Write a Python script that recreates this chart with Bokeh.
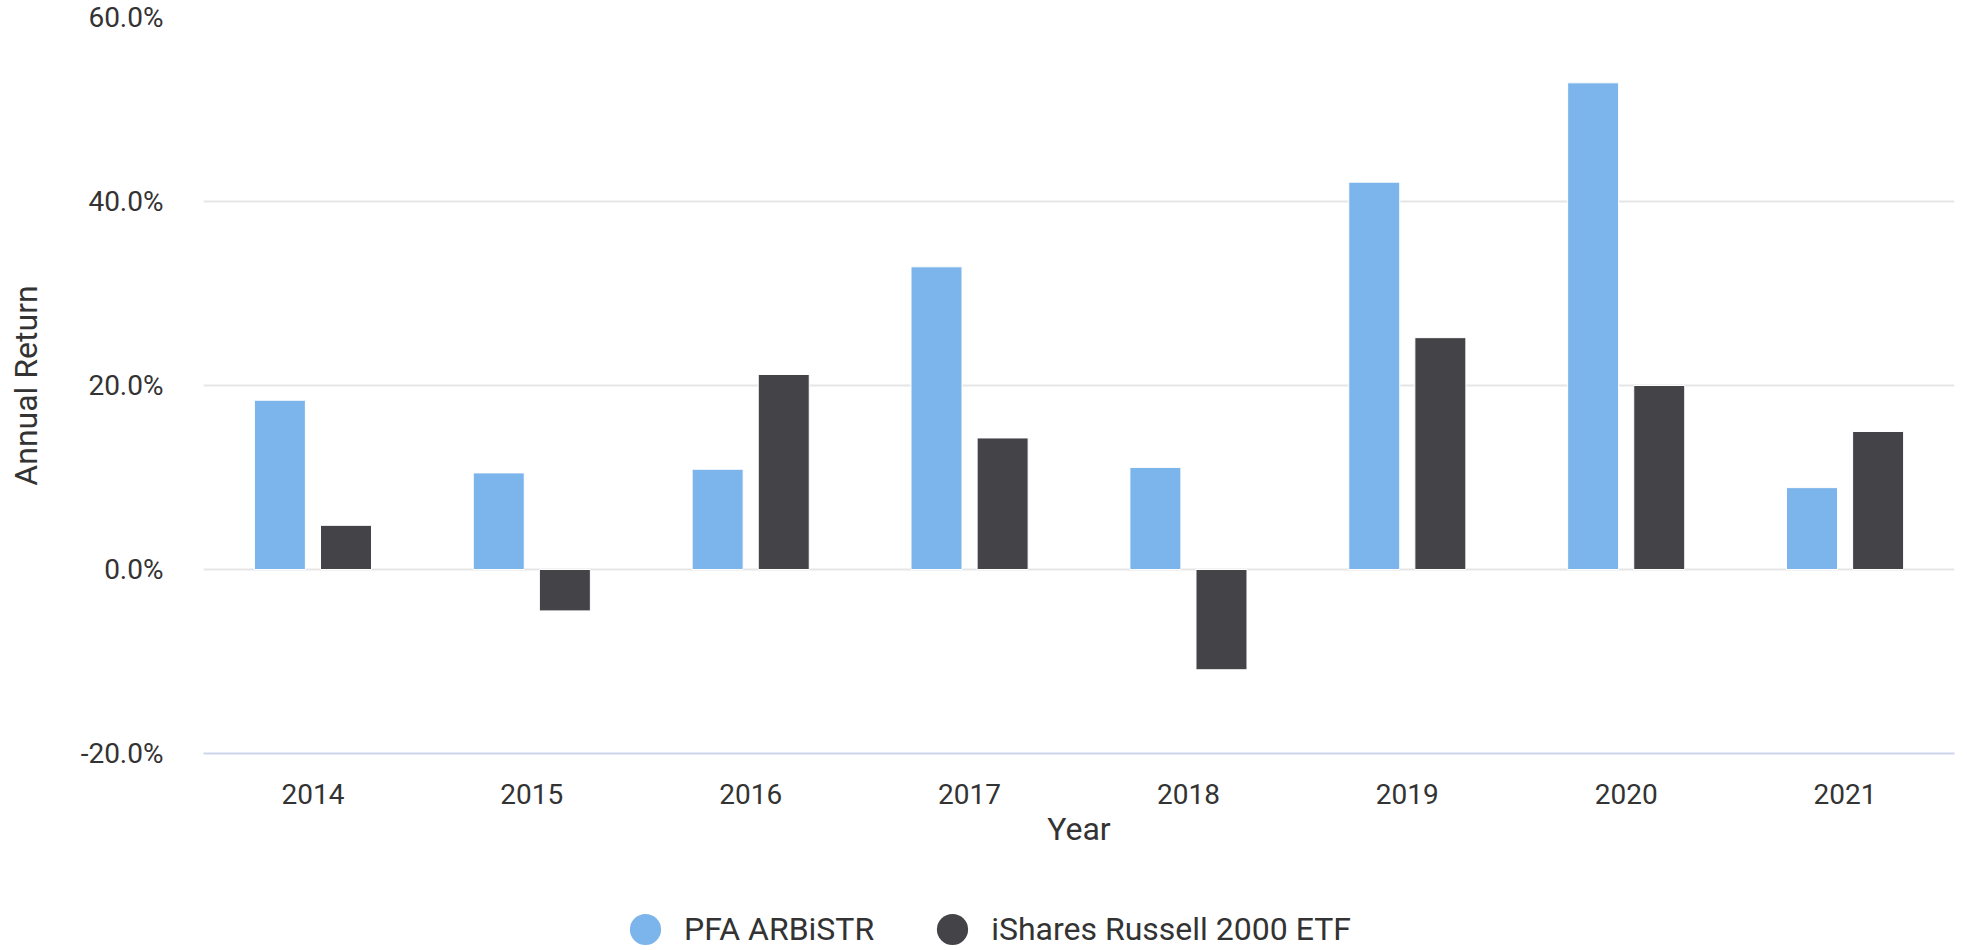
from bokeh.plotting import figure
from bokeh.layouts import column
from bokeh.models import (ColumnDataSource, FactorRange, Range1d, FixedTicker,
                          PrintfTickFormatter, Legend, LegendItem)
from bokeh.transform import dodge
from bokeh.embed import file_html
from bokeh.resources import INLINE

# ---- data ----
years = ["2014", "2015", "2016", "2017", "2018", "2019", "2020", "2021"]
pfa_arbistr = [18.4, 10.5, 10.9, 32.9, 11.1, 42.1, 52.9, 8.9]
ishares_r2000 = [4.8, -4.5, 21.2, 14.3, -10.9, 25.2, 20.0, 15.0]
y_ticks = [-20, 0, 20, 40, 60]
series_names = ["PFA ARBiSTR", "iShares Russell 2000 ETF"]
series_colors = ["#7cb5ec", "#434348"]

FONT = "Roboto"
TXT = "#333333"

src = ColumnDataSource(dict(year=years, pfa=pfa_arbistr, iwm=ishares_r2000))

p = figure(width=1960, height=850, x_range=FactorRange(*years),
           y_range=Range1d(-20, 60), output_backend="svg", title=None,
           toolbar_location=None, tools="",
           min_border_left=203, min_border_right=6, min_border_top=17,
           min_border_bottom=97)
p.outline_line_color = None

off = 0.151
bw = 0.233
p.vbar(x=dodge("year", -off, range=p.x_range), top="pfa", bottom=0, width=bw,
       source=src, fill_color=series_colors[0], line_color="white", line_width=1)
p.vbar(x=dodge("year", off, range=p.x_range), top="iwm", bottom=0, width=bw,
       source=src, fill_color=series_colors[1], line_color="white", line_width=1)

# axes
p.yaxis.ticker = FixedTicker(ticks=y_ticks)
p.yaxis.formatter = PrintfTickFormatter(format="%.1f%%")
p.yaxis.axis_line_color = None
p.yaxis.major_tick_line_color = None
p.yaxis.minor_tick_line_color = None
p.yaxis.major_label_standoff = 34
p.yaxis.major_label_text_font = FONT
p.yaxis.major_label_text_font_size = "28px"
p.yaxis.major_label_text_color = TXT
p.yaxis.axis_label = "Annual Return"
p.yaxis.axis_label_text_font = FONT
p.yaxis.axis_label_text_font_size = "32px"
p.yaxis.axis_label_text_font_style = "normal"
p.yaxis.axis_label_text_color = TXT
p.yaxis.axis_label_standoff = 33

p.xaxis.axis_line_color = "#ccd6eb"
p.xaxis.axis_line_width = 2
p.xaxis.major_tick_line_color = None
p.xaxis.minor_tick_line_color = None
p.xaxis.major_label_standoff = 24
p.xaxis.major_label_text_font = FONT
p.xaxis.major_label_text_font_size = "28px"
p.xaxis.major_label_text_color = TXT
p.xaxis.axis_label = "Year"
p.xaxis.axis_label_text_font = FONT
p.xaxis.axis_label_text_font_size = "32px"
p.xaxis.axis_label_text_font_style = "normal"
p.xaxis.axis_label_text_color = TXT
p.xaxis.axis_label_standoff = 3

p.xgrid.grid_line_color = None
p.ygrid.grid_line_color = "#e6e6e6"
p.ygrid.grid_line_width = 2

# ---- legend strip below the chart ----
lf = figure(width=1960, height=100, x_range=(0, 1), y_range=(0, 1),
            output_backend="svg", toolbar_location=None, tools="", title=None,
            x_axis_location=None, y_axis_location=None, min_border=0,
            min_border_left=203, min_border_right=6)
lf.outline_line_color = None
lf.grid.visible = False
proxy = ColumnDataSource(dict(x=[-10], y=[-10]))
c1 = lf.scatter("x", "y", source=proxy, marker="circle", size=10,
                fill_color=series_colors[0], line_color=None)
c2 = lf.scatter("x", "y", source=proxy, marker="circle", size=10,
                fill_color=series_colors[1], line_color=None)
legend = Legend(items=[LegendItem(label=series_names[0], renderers=[c1]),
                       LegendItem(label=series_names[1], renderers=[c2])],
                orientation="horizontal", location=(403, -18),
                glyph_width=78, glyph_height=78, label_standoff=-13, spacing=39,
                padding=0, margin=0, border_line_color=None,
                background_fill_alpha=0,
                label_text_font=FONT, label_text_font_size="32px",
                label_text_color=TXT)
lf.add_layout(legend)

layout = column(p, lf, spacing=0)
open("out.html", "w").write(file_html(layout, INLINE))
